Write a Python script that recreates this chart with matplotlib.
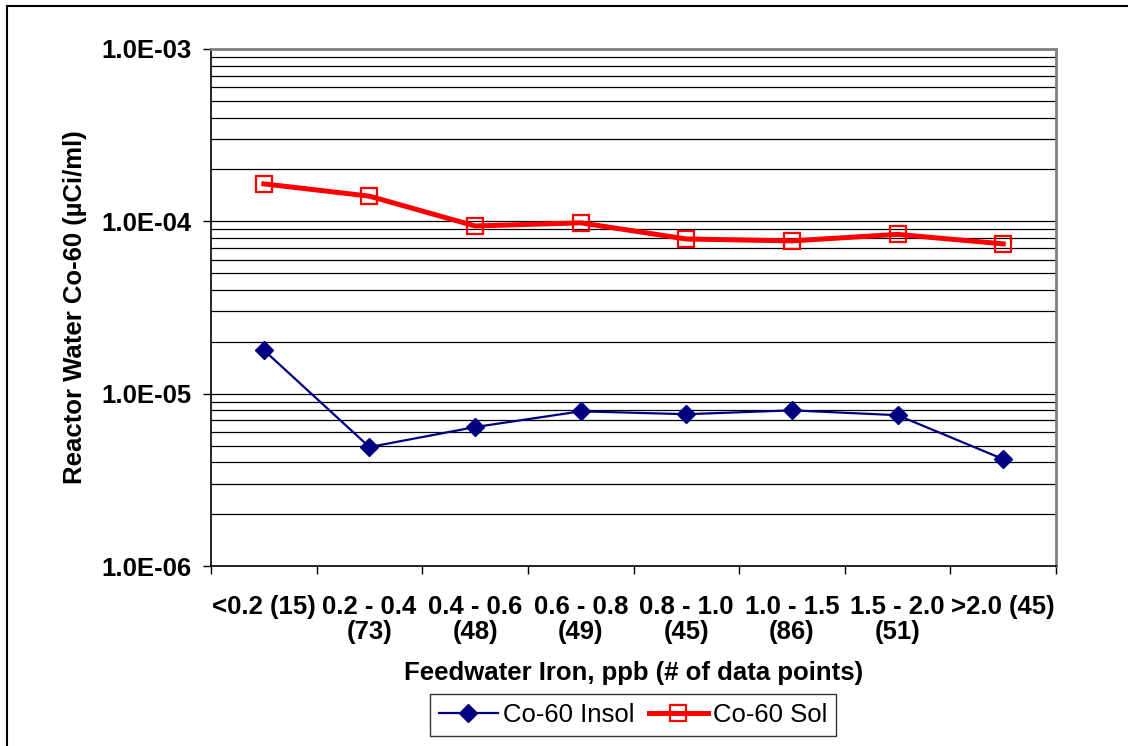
import matplotlib.pyplot as plt
from matplotlib.patches import Rectangle
from matplotlib.ticker import LogLocator, NullFormatter, FixedLocator

categories = ["<0.2 (15)", "0.2 - 0.4\n(73)", "0.4 - 0.6\n(48)", "0.6 - 0.8\n(49)",
              "0.8 - 1.0\n(45)", "1.0 - 1.5\n(86)", "1.5 - 2.0\n(51)", ">2.0 (45)"]
co60_insol = [1.79e-5, 4.9e-6, 6.4e-6, 7.9e-6, 7.6e-6, 8.0e-6, 7.5e-6, 4.17e-6]
co60_sol = [1.65e-4, 1.40e-4, 9.4e-5, 9.8e-5, 7.9e-5, 7.7e-5, 8.4e-5, 7.4e-5]
y_ticks = [1e-6, 1e-5, 1e-4, 1e-3]
y_tick_labels = ["1.0E-06", "1.0E-05", "1.0E-04", "1.0E-03"]

plt.rcParams["font.family"] = ["Liberation Sans", "DejaVu Sans"]
fs = 18.5

fig = plt.figure(figsize=(11.28, 7.46), dpi=100)
ax = fig.add_axes([211 / 1128, 1 - 566 / 746, (1056 - 211) / 1128, (566 - 49) / 746])

# outer chart frame (only left/top visible in the original)
fig.patches.append(Rectangle((7 / 1128, -0.1), 1.2, 1 - 6 / 746 + 0.1,
                             transform=fig.transFigure, fill=False,
                             edgecolor="black", linewidth=1.5))

x = list(range(len(categories)))
ax.plot(x, co60_insol, color="#000080", linewidth=1.6, marker="D", markersize=9,
        markerfacecolor="#000080", markeredgecolor="#000080", label="Co-60 Insol", zorder=3)
ax.plot(x, co60_sol, color="#ff0000", linewidth=3.6, marker="s", markersize=12,
        markerfacecolor="none", markeredgecolor="#ff0000", markeredgewidth=1.6,
        label="Co-60 Sol", zorder=3)

ax.set_yscale("log")
ax.set_ylim(1e-6, 1e-3)
ax.set_xlim(-0.5, len(categories) - 0.5)
ax.yaxis.set_major_locator(FixedLocator(y_ticks))
ax.set_yticklabels(y_tick_labels, fontsize=fs, fontweight="bold")
ax.yaxis.set_minor_locator(LogLocator(base=10, subs=range(2, 10)))
ax.yaxis.set_minor_formatter(NullFormatter())
ax.tick_params(axis="y", which="minor", length=0)
ax.tick_params(axis="y", which="major", length=6, width=1, pad=8)
ax.grid(True, which="both", axis="y", color="black", linewidth=0.9)

# category labels sit between the tick marks
ax.set_xticks([i + 0.5 for i in range(-1, len(categories))])
ax.set_xticklabels([])
ax.set_xticks(x, minor=True)
ax.set_xticklabels(categories, minor=True, fontsize=fs, fontweight="bold", linespacing=1.05)
ax.tick_params(axis="x", which="minor", length=0, pad=21)
ax.tick_params(axis="x", which="major", length=6, width=1)

for side in ["top", "right"]:
    ax.spines[side].set_color("#808080")
    ax.spines[side].set_linewidth(2)
for side in ["left", "bottom"]:
    ax.spines[side].set_color("black")
    ax.spines[side].set_linewidth(1.2)

ax.set_xlabel("Feedwater Iron, ppb (# of data points)", fontsize=fs, fontweight="bold", labelpad=12.5)
ax.set_ylabel("Reactor Water Co-60 (\u00b5Ci/ml)", fontsize=fs, fontweight="bold", labelpad=10)

leg = fig.legend(loc="center", bbox_to_anchor=(633 / 1128, 1 - 715 / 746), ncol=2,
                 fontsize=fs, frameon=True, fancybox=False, edgecolor="black",
                 handlelength=2.3, handletextpad=0.2, columnspacing=0.55, borderpad=0.35,
                 borderaxespad=0)
leg.get_frame().set_linewidth(1.0)

fig.savefig("out.png", dpi=100)
